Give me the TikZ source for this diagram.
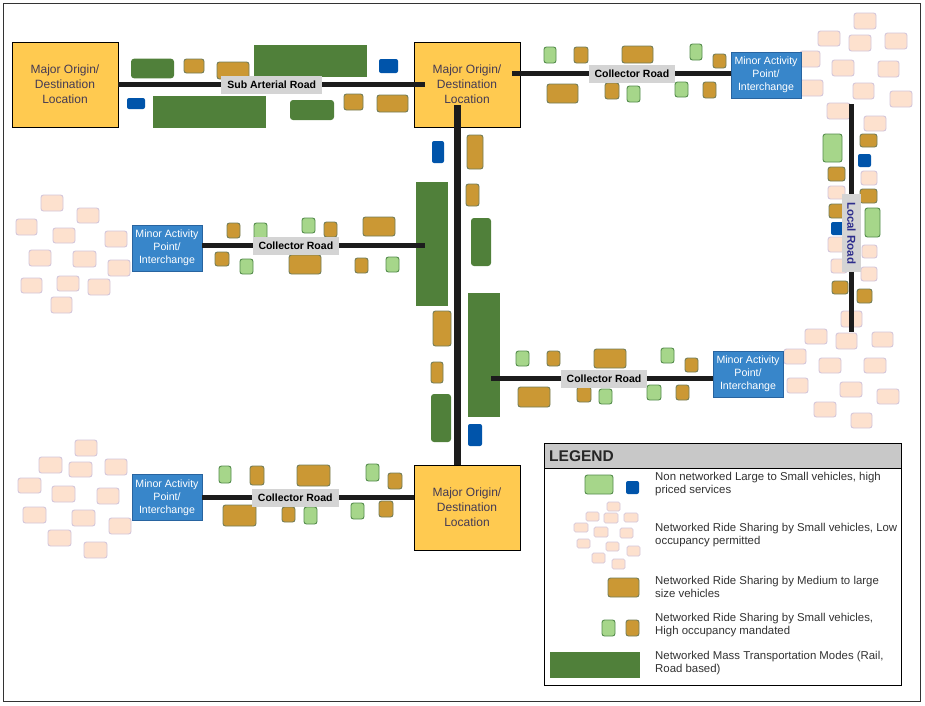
\documentclass[tikz,border=0pt]{standalone}
\usepackage{fontspec}
\setmainfont{Liberation Sans}
\definecolor{yellowc}{RGB}{255,202,80}
\definecolor{massgreen}{RGB}{80,128,58}
\definecolor{lgfill}{RGB}{166,214,138}
\definecolor{lgdraw}{RGB}{84,140,76}
\definecolor{tanfill}{RGB}{203,152,52}
\definecolor{tandraw}{RGB}{115,125,88}
\definecolor{bluefill}{RGB}{0,84,170}
\definecolor{pkfill}{RGB}{253,225,206}
\definecolor{pkdraw}{RGB}{212,198,218}
\definecolor{minorfill}{RGB}{56,134,202}
\definecolor{minordraw}{RGB}{40,100,160}
\definecolor{labelgray}{RGB}{212,212,212}
\definecolor{roadc}{RGB}{28,28,28}
\definecolor{majortext}{RGB}{68,58,84}
\definecolor{navyc}{RGB}{45,45,140}
\definecolor{legendhead}{RGB}{200,200,200}
\definecolor{legtext}{RGB}{50,50,50}
\newcommand\myveh[5]{\path[#1] (#2,#3) rectangle (#4,#5);}
\begin{document}
\begin{tikzpicture}[x=1pt,y=-1pt,
  veh/.style={line width=0.9pt, rounded corners=2.5pt},
  lgv/.style={veh, fill=lgfill, draw=lgdraw},
  tanv/.style={veh, fill=tanfill, draw=tandraw},
  bluv/.style={rounded corners=2pt, fill=bluefill},
  pkv/.style={veh, fill=pkfill, draw=pkdraw},
  pks/.style={line width=0.7pt, rounded corners=1.5pt, fill=pkfill, draw=pkdraw},
  massv/.style={fill=massgreen},
  massr/.style={fill=massgreen, rounded corners=3pt},
  major/.style={draw=black, line width=0.8pt, fill=yellowc, minimum width=106pt, minimum height=85pt, align=center, text=majortext, font=\fontsize{12}{15}\selectfont, inner sep=0pt},
  minor/.style={draw=minordraw, fill=minorfill, line width=0.6pt, minimum width=70pt, minimum height=46pt, align=center, text=white, font=\fontsize{10.6}{13}\selectfont, inner sep=0pt},
  road/.style={draw=roadc, line width=5.5pt},
  rlabel/.style={fill=labelgray, font=\bfseries\fontsize{10.5}{12}\selectfont, inner xsep=6pt, inner ysep=0pt, minimum height=18pt},
  legtxt/.style={anchor=west, align=left, text=legtext, inner sep=0pt, font=\fontsize{11.4}{13}\selectfont}
]
\useasboundingbox (0,0) rectangle (925,705);
\fill[white] (0,0) rectangle (925,705);
\draw[line width=0.8pt, draw=black!80] (3,3) rectangle (920,701);

% ---------- vehicles: sub arterial ----------
\myveh{massr}{131}{58.7}{174}{78.3}
\myveh{tanv}{184}{59}{204}{73}
\myveh{tanv}{217}{62}{249}{79}
\myveh{massv}{254}{45}{367}{77}
\myveh{bluv}{379}{59}{398}{73}
\myveh{bluv}{127}{98}{145}{109}
\myveh{massv}{153}{96}{266}{128}
\myveh{massr}{290}{100}{334}{120}
\myveh{tanv}{344}{94}{363}{110}
\myveh{tanv}{377}{95}{408}{112}

% ---------- top right collector ----------
\myveh{lgv}{544}{47}{556}{63}
\myveh{tanv}{574}{47}{588}{63}
\myveh{tanv}{622}{46}{653}{63}
\myveh{lgv}{690}{44}{702}{60}
\myveh{tanv}{713}{54}{726}{68}
\myveh{tanv}{547}{84}{578}{103}
\myveh{tanv}{605}{83}{619}{99}
\myveh{lgv}{627}{86}{640}{102}
\myveh{lgv}{675}{82}{688}{97}
\myveh{tanv}{703}{82}{716}{98}

% ---------- top right pink cluster ----------
\myveh{pkv}{854}{13}{876}{29}
\myveh{pkv}{818}{31}{840}{46}
\myveh{pkv}{849}{35}{871}{51}
\myveh{pkv}{885}{33}{907}{49}
\myveh{pkv}{800}{51}{820}{67}
\myveh{pkv}{832}{60}{854}{76}
\myveh{pkv}{878}{61}{899}{77}
\myveh{pkv}{800}{80}{823}{96}
\myveh{pkv}{853}{83}{874}{99}
\myveh{pkv}{890}{91}{912}{107}
\myveh{pkv}{827}{103}{850}{119}
\myveh{pkv}{864}{116}{886}{131}

% ---------- local road ----------
\myveh{lgv}{823}{134}{842}{162}
\myveh{tanv}{860}{134}{877}{147}
\myveh{bluv}{858}{154}{871}{167}
\myveh{tanv}{828}{167}{845}{181}
\myveh{pkv}{861}{171}{877}{185}
\myveh{pkv}{828}{186}{845}{199}
\myveh{tanv}{860}{189}{877}{203}
\myveh{tanv}{829}{204}{846}{218}
\myveh{lgv}{865}{208}{880}{237}
\myveh{bluv}{831}{222}{844}{235}
\myveh{pkv}{828}{237}{845}{252}
\myveh{pkv}{862}{245}{877}{258}
\myveh{pkv}{831}{259}{847}{273}
\myveh{pkv}{861}{267}{877}{281}
\myveh{tanv}{832}{281}{848}{294}
\myveh{tanv}{857}{289}{872}{303}
\myveh{pkv}{841}{311}{862}{327}

% ---------- bottom right pink cluster ----------
\myveh{pkv}{805}{329}{827}{344}
\myveh{pkv}{836}{333}{857}{349}
\myveh{pkv}{872}{332}{893}{347}
\myveh{pkv}{784}{349}{806}{364}
\myveh{pkv}{819}{358}{841}{373}
\myveh{pkv}{864}{358}{886}{373}
\myveh{pkv}{787}{378}{808}{393}
\myveh{pkv}{840}{382}{862}{397}
\myveh{pkv}{877}{389}{899}{404}
\myveh{pkv}{814}{402}{836}{417}
\myveh{pkv}{851}{413}{872}{428}

% ---------- centre column ----------
\myveh{bluv}{432}{141}{444}{163}
\myveh{tanv}{467}{135}{483}{169}
\myveh{tanv}{466}{184}{479}{206}
\myveh{massr}{471}{218}{491}{266}
\myveh{massv}{416}{182}{448}{306}
\myveh{tanv}{433}{311}{451}{346}
\myveh{tanv}{431}{362}{443}{383}
\myveh{massr}{431}{394}{451}{442}
\myveh{massv}{468}{293}{500}{417}
\myveh{bluv}{468}{424}{482}{446}

% ---------- left middle collector ----------
\myveh{tanv}{227}{223}{240}{238}
\myveh{lgv}{254}{223}{267}{239}
\myveh{lgv}{302}{218}{315}{233}
\myveh{tanv}{324}{222}{337}{237}
\myveh{tanv}{363}{217}{395}{236}
\myveh{tanv}{215}{252}{229}{266}
\myveh{lgv}{240}{259}{253}{274}
\myveh{tanv}{289}{255}{321}{274}
\myveh{tanv}{355}{258}{368}{273}
\myveh{lgv}{386}{257}{399}{272}

% ---------- left middle pink cluster ----------
\myveh{pkv}{41}{195}{63}{211}
\myveh{pkv}{77}{208}{99}{223}
\myveh{pkv}{16}{219}{37}{235}
\myveh{pkv}{53}{228}{75}{243}
\myveh{pkv}{105}{231}{127}{247}
\myveh{pkv}{29}{250}{51}{266}
\myveh{pkv}{73}{251}{96}{267}
\myveh{pkv}{108}{260}{130}{276}
\myveh{pkv}{21}{278}{42}{293}
\myveh{pkv}{57}{276}{79}{291}
\myveh{pkv}{88}{279}{110}{295}
\myveh{pkv}{51}{297}{72}{313}

% ---------- right middle collector ----------
\myveh{lgv}{516}{351}{529}{366}
\myveh{tanv}{547}{351}{560}{366}
\myveh{tanv}{594}{349}{626}{368}
\myveh{lgv}{661}{348}{674}{363}
\myveh{tanv}{685}{358}{698}{372}
\myveh{tanv}{518}{387}{550}{407}
\myveh{tanv}{577}{387}{591}{402}
\myveh{lgv}{599}{389}{612}{404}
\myveh{lgv}{647}{385}{661}{400}
\myveh{tanv}{676}{385}{689}{400}

% ---------- bottom collector ----------
\myveh{lgv}{219}{466}{231}{483}
\myveh{tanv}{250}{466}{264}{485}
\myveh{tanv}{297}{465}{330}{486}
\myveh{lgv}{366}{464}{379}{481}
\myveh{tanv}{388}{473}{402}{489}
\myveh{tanv}{223}{505}{256}{526}
\myveh{tanv}{282}{507}{295}{522}
\myveh{lgv}{304}{507}{317}{524}
\myveh{lgv}{351}{503}{364}{519}
\myveh{tanv}{379}{501}{393}{517}

% ---------- bottom left pink cluster ----------
\myveh{pkv}{75}{440}{97}{456}
\myveh{pkv}{39}{457}{62}{473}
\myveh{pkv}{69}{462}{92}{477}
\myveh{pkv}{105}{459}{127}{475}
\myveh{pkv}{18}{478}{41}{493}
\myveh{pkv}{52}{486}{75}{502}
\myveh{pkv}{97}{488}{119}{504}
\myveh{pkv}{23}{507}{46}{523}
\myveh{pkv}{72}{510}{95}{526}
\myveh{pkv}{109}{518}{131}{534}
\myveh{pkv}{48}{530}{71}{546}
\myveh{pkv}{84}{542}{107}{558}

% ---------- main nodes ----------
\node[major] (L) at (65,84.5) {Major Origin/\\Destination\\Location};
\node[major] (C) at (467,84.5) {Major Origin/\\Destination\\Location};
\node[major] (B) at (467,507.5) {Major Origin/\\Destination\\Location};
\node[minor] (M1) at (766,75) {Minor Activity\\Point/\\Interchange};
\node[minor] (M2) at (167,248) {Minor Activity\\Point/\\Interchange};
\node[minor] (M3) at (748,374) {Minor Activity\\Point/\\Interchange};
\node[minor] (M4) at (167,497.5) {Minor Activity\\Point/\\Interchange};

% ---------- road end points ----------
\coordinate (sa2) at (425,84.5);
\coordinate (tc1) at (512,73.5);
\coordinate (lr1) at (851.5,104);
\coordinate (lr2) at (851.5,332);
\coordinate (v1) at (457.5,105);
\coordinate (lc2) at (425,245.5);
\coordinate (rc1) at (491,378.5);

% ---------- roads ----------
\draw[road] (L.east) -- node[rlabel, pos=0.5] (lsa) {Sub Arterial Road} (sa2);
\draw[road] (tc1) -- node[rlabel, pos=0.548] (ltc) {Collector Road} (tc1 -| M1.west);
\draw[road, line width=5pt] (lr1) -- node[rlabel, rotate=-90, text=navyc, pos=0.566, inner xsep=8pt, minimum height=19pt, font=\bfseries\fontsize{11.5}{12}\selectfont] (llr) {Local Road} (lr2);
\draw[road, line width=7pt] (v1) -- (v1 |- B.north);
\draw[road] (lc2 -| M2.east) -- node[rlabel, pos=0.42] (llc) {Collector Road} (lc2);
\draw[road] (rc1) -- node[rlabel, pos=0.51] (lrc) {Collector Road} (rc1 -| M3.west);
\draw[road] (M4.east) -- node[rlabel, pos=0.44] (lbc) {Collector Road} (M4.east -| B.west);

% ---------- legend ----------
\node[draw=black, line width=0.8pt, minimum width=357pt, minimum height=242pt, anchor=north west, inner sep=0pt] (leg) at (544,443) {};
\node[draw=black, line width=0.8pt, fill=legendhead, minimum width=357pt, minimum height=25pt, anchor=north west, inner sep=0pt] (leghead) at (544,443) {};
\node[anchor=west, inner sep=0pt, font=\bfseries\fontsize{15.5}{16}\selectfont, text=black!85] (legtitle) at (549,456.5) {LEGEND};

\myveh{lgv}{585}{475}{613}{494}
\myveh{bluv}{626}{481}{639}{494}
\node[legtxt] (t1) at (655,484.5) {Non networked Large to Small vehicles, high\\priced services};

\myveh{pks}{607}{502}{620}{511}
\myveh{pks}{586}{512}{599}{521}
\myveh{pks}{604}{513}{618}{523}
\myveh{pks}{624}{513}{638}{522}
\myveh{pks}{574}{523}{588}{532}
\myveh{pks}{594}{527}{608}{537}
\myveh{pks}{620}{528}{633}{538}
\myveh{pks}{577}{539}{590}{548}
\myveh{pks}{606}{542}{619}{551}
\myveh{pks}{627}{546}{640}{556}
\myveh{pks}{592}{553}{605}{563}
\myveh{pks}{612}{559}{625}{569}
\node[legtxt] (t2) at (655,535.5) {Networked Ride Sharing by Small vehicles, Low\\occupancy permitted};

\myveh{tanv}{608}{578}{639}{597}
\node[legtxt] (t3) at (655,586.5) {Networked Ride Sharing by Medium to large\\size vehicles};

\myveh{lgv}{602}{620}{615}{636}
\myveh{tanv}{626}{620}{639}{636}
\node[legtxt] (t4) at (655,625.5) {Networked Ride Sharing by Small vehicles,\\High occupancy mandated};

\myveh{massv}{550}{652}{640}{678}
\node[legtxt] (t5) at (655,663.5) {Networked Mass Transportation Modes (Rail,\\Road based)};
\end{tikzpicture}
\end{document}
